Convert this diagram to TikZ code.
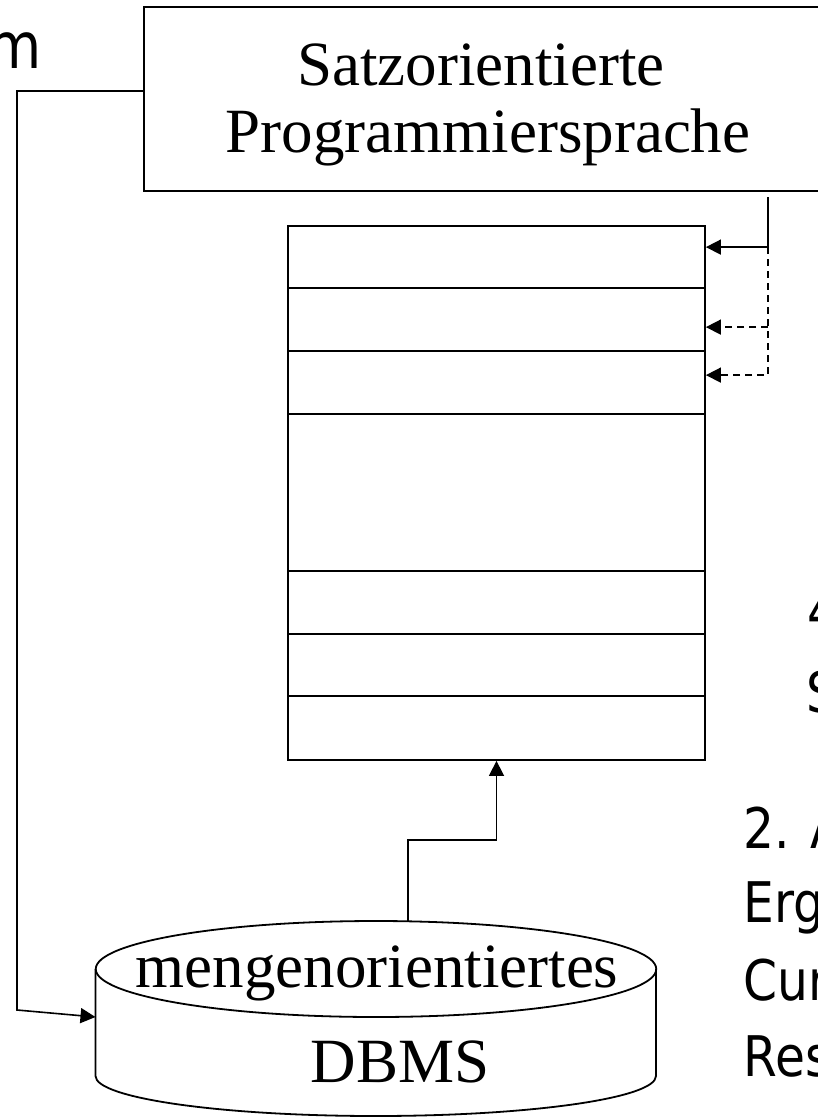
\documentclass[tikz,border=0pt]{standalone}
\usepackage{fontspec}
\setmainfont{Liberation Serif}
\newfontfamily\notefont[FakeStretch=0.87]{DejaVu Sans}
\usetikzlibrary{arrows.meta,calc}

\begin{document}
\begin{tikzpicture}[x=1pt,y=-1pt,line width=1.8pt,
  big/.style={font=\fontsize{63}{67}\selectfont,inner sep=0pt,anchor=base},
  note/.style={font=\notefont\fontsize{56}{76}\selectfont,inner sep=0pt,anchor=base west},
  conn/.style={line width=1.6pt,-{Triangle[length=15pt,width=15pt]}},
  dconn/.style={conn,dash pattern=on 7pt off 5pt}]
  \useasboundingbox (0,0) rectangle (818,1117);
  \clip (0,0) rectangle (818,1117);
  % host language box, runs off the right edge
  \node[draw,minimum width=682pt,minimum height=184pt] (prog) at (485,99) {};
  \node[big] (satz) at (481,85) {Satzorientierte};
  \node[big] (progr) at (488,152) {Programmiersprache};
  % result set, one row per record
  \node[draw,minimum width=417pt,minimum height=534pt,inner sep=0pt] (res) at (496.5,493) {};
  \foreach \y in {63,126,189,346,409,471}
    \draw ($(res.north west)+(0,\y)$) -- ($(res.north east)+(0,\y)$);
  % cursor: first fetch solid, later ones dashed
  \coordinate (tap) at (768,197);
  \coordinate (r1) at ($(res.north east)+(0,22)$);
  \coordinate (r2) at ($(res.north east)+(0,102)$);
  \coordinate (r3) at ($(res.north east)+(0,150)$);
  \draw[conn] (tap) |- (r1);
  \draw[dconn] (tap |- r1) |- (r3);
  \draw[dconn] (tap |- r2) -- (r2);
  % DBMS drawn as a cylinder
  \coordinate (dbtop) at (408,921);
  \coordinate (dbleft) at (95.5,1017);
  \draw (95.5,969) -- (95.5,1076) arc[start angle=180,end angle=0,x radius=280.25,y radius=40] -- (656,969);
  \draw (376,969) ellipse[x radius=280.25,y radius=48];
  \node[big] (mengen) at (377,987) {mengenorientiertes};
  \node[big] (dbms) at (400,1082) {DBMS};
  \draw[conn] (dbtop) |- ($(res.south)+(0,79)$) -- (res.south);
  \coordinate (bend) at (17,1010);
  \draw[conn] ($(prog.west)+(0,-8)$) -| (bend) -- (dbleft);
  % slide text, cut off at the edges
  \node[note,font=\notefont\fontsize{64}{76}\selectfont,anchor=base east] (m) at (43,68) {m};
  \node[note] (four) at (807,631) {4};
  \node[note] (s) at (806,712) {S};
  \node[note] (step) at (743,848) {2. A};
  \node[note] (erg) at (743,922) {Erg};
  \node[note] (cur) at (743,1000) {Cur};
  \node[note] (res2) at (743,1076) {Res};
\end{tikzpicture}
\end{document}
